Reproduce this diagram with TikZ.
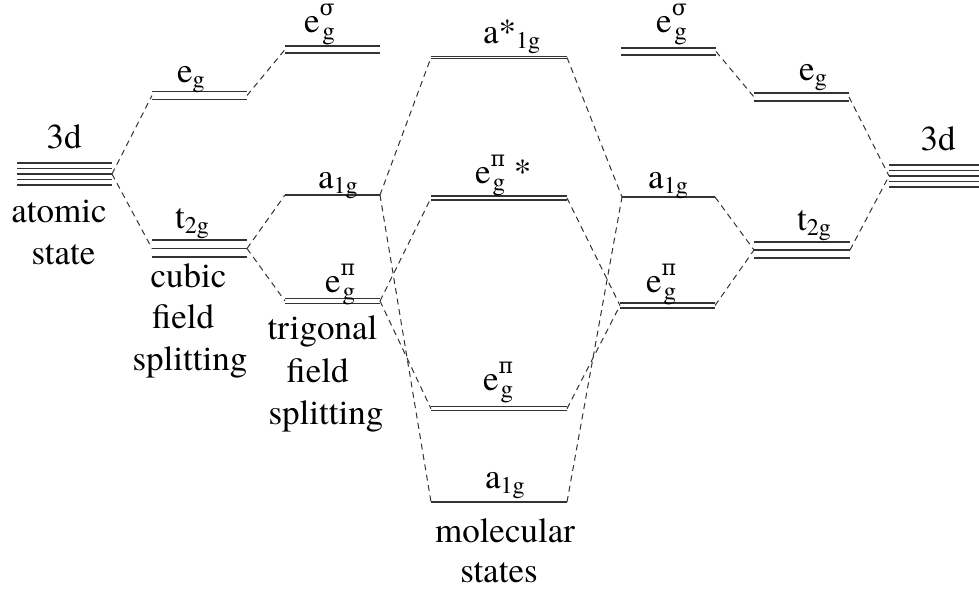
\documentclass[tikz,border=0pt]{standalone}
\usepackage{fontspec}
\setmainfont{texgyretermes}[Extension=.otf, UprightFont=*-regular]
\newfontfamily\grk{DejaVu Serif}
\newcommand{\lsupsub}[2]{{\fontsize{25}{25}\selectfont\ooalign{\hfil\raisebox{17pt}{\grk\fontsize{22}{22}\selectfont #1}\cr\hfil\raisebox{-7pt}{#2}\cr}}}
\newcommand{\lsub}[1]{\raisebox{-5pt}{\fontsize{24}{24}\selectfont #1}}
\newcommand{\mklevel}[7]{% name, x1, x2, y, n, spacing, line width
  \node[levelbox, minimum width={(#3-#2)*1pt}] (#1) at ({(#2+#3)/2},#4) {};
  \foreach \k in {1,...,#5}{
    \draw[lvline, line width=#7pt] ([yshift={(\k-1-(#5-1)/2)*#6*1pt}]#1.west) -- ([yshift={(\k-1-(#5-1)/2)*#6*1pt}]#1.east);
  }
}
\begin{document}
\begin{tikzpicture}[x=1pt,y=-1pt,
  lvline/.style={draw=black!80},
  levelbox/.style={inner sep=0pt, outer sep=0pt, draw=none, minimum height=0pt},
  conn/.style={dash pattern=on 6pt off 4.5pt, line width=1pt, draw=black!80},
  lab/.style={inner sep=0pt, anchor=base west, font=\fontsize{35}{42}\selectfont},
  txt/.style={inner sep=0pt, anchor=base, font=\fontsize{35}{42}\selectfont}]
\useasboundingbox (0,0) rectangle (979,592);

% ---------- levels ----------
\mklevel{L3d}{17}{112}{174}{5}{5.5}{1.5}
\mklevel{Leg}{152}{247}{95.5}{2}{8}{1.6}
\mklevel{Lt2g}{152}{247}{248.5}{3}{8.3}{1.6}
\mklevel{Lesg}{285}{380}{49.5}{2}{7}{1.6}
\mklevel{La1g}{285}{380}{195}{1}{0}{1.6}
\mklevel{Lepg}{285}{380}{301}{2}{5}{1.5}
\mklevel{Mas}{431}{567}{57.5}{2}{2}{1.3}
\mklevel{Meps}{431}{567}{198}{2}{4}{1.4}
\mklevel{Mep}{431}{567}{408.7}{2}{4}{1.5}
\mklevel{Ma}{431}{567}{502}{1}{0}{1.6}
\mklevel{Resg}{621}{716}{51.5}{2}{7}{1.6}
\mklevel{Reg}{754}{849}{97}{2}{8}{1.6}
\mklevel{R3d}{889}{979}{176}{5}{5.5}{1.5}
\mklevel{Ra1g}{622}{715}{197}{1}{0}{1.6}
\mklevel{Rt2g}{754}{850}{250}{3}{8}{1.6}
\mklevel{Repg}{620}{715}{305.5}{2}{5}{1.5}

% ---------- connectors ----------
\draw[conn] (L3d.east) -- (Leg.west);
\draw[conn] (L3d.east) -- (Lt2g.west);
\draw[conn] (Leg.east) -- (Lesg.west);
\draw[conn] (Lt2g.east) -- (La1g.west);
\draw[conn] (Lt2g.east) -- (Lepg.west);
\draw[conn] (La1g.east) -- (Mas.west);
\draw[conn] (La1g.east) -- (Ma.west);
\draw[conn] (Lepg.east) -- (Meps.west);
\draw[conn] (Lepg.east) -- (Mep.west);
\draw[conn] (Mas.east) -- (Ra1g.west);
\draw[conn] (Ma.east) -- (Ra1g.west);
\draw[conn] (Meps.east) -- (Repg.west);
\draw[conn] (Mep.east) -- (Repg.west);
\draw[conn] (Resg.east) -- (Reg.west);
\draw[conn] (Reg.east) -- (R3d.west);
\draw[conn] (Ra1g.east) -- (Rt2g.west);
\draw[conn] (Repg.east) -- (Rt2g.west);
\draw[conn] (Rt2g.east) -- (R3d.west);

% ---------- level labels ----------
\node[txt] (lab-L3d) at (64,148) {3d};
\node[txt] (lab-R3d) at (938,150) {3d};
\node[lab] (lab-Leg) at (177,82) {e\lsub{g}};
\node[lab] (lab-Lesg) at (304,32) {e\lsupsub{σ}{g}};
\node[lab] (lab-La1g) at (318,188) {a\lsub{1g}};
\node[lab] (lab-Lt2g) at (175,228) {t\lsub{2g}};
\node[lab] (lab-Lepg) at (325,292) {e\lsupsub{π}{g}};
\node[lab] (lab-Mas) at (483,43) {a*\lsub{1g}};
\node[lab] (lab-Meps) at (475,183) {e\lsupsub{π}{g} *};
\node[lab] (lab-Mep) at (483,390) {e\lsupsub{π}{g}};
\node[lab] (lab-Ma) at (485,488) {a\lsub{1g}};
\node[lab] (lab-Resg) at (656,32) {e\lsupsub{σ}{g}};
\node[lab] (lab-Reg) at (799,80) {e\lsub{g}};
\node[lab] (lab-Ra1g) at (648,188) {a\lsub{1g}};
\node[lab] (lab-Rt2g) at (797,230) {t\lsub{2g}};
\node[lab] (lab-Repg) at (646,292) {e\lsupsub{π}{g}};

% ---------- captions ----------
\node[txt] (cap-atomic) at (59,222) {atomic};
\node[txt] (cap-state) at (63.5,264) {state};
\node[txt] (cap-cubic) at (188.5,287) {cubic};
\node[txt] (cap-field1) at (183,328) {field};
\node[txt] (cap-split1) at (190,370) {splitting};
\node[txt] (cap-trig) at (322.5,339) {trigonal};
\node[txt] (cap-field2) at (317.5,382) {field};
\node[txt] (cap-split2) at (326,424) {splitting};
\node[txt] (cap-mol) at (505,542) {molecular};
\node[txt] (cap-states) at (499,582) {states};
\end{tikzpicture}
\end{document}
